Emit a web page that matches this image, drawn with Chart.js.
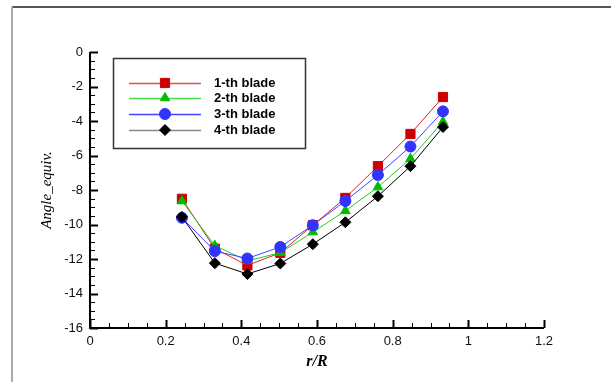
<!DOCTYPE html>
<html>
<head>
<meta charset="utf-8">
<script src="https://cdn.jsdelivr.net/npm/chart.js@4.4.0/dist/chart.umd.min.js"></script>
<style>
  html, body { margin: 0; padding: 0; background: #fff; }
  #wrap { width: 611px; height: 382px; position: relative; }
</style>
</head>
<body>
<div id="wrap"><canvas id="grafAngulo"></canvas></div>
<script>
// datos
var rR = [0.243, 0.33, 0.416, 0.503, 0.589, 0.675, 0.761, 0.847, 0.933];
var blade1 = [-8.51, -11.4, -12.37, -11.64, -10.04, -8.46, -6.62, -4.75, -2.61];
var blade2 = [-8.64, -11.23, -12.1, -11.64, -10.44, -9.21, -7.83, -6.19, -4.04];
var blade3 = [-9.61, -11.54, -11.97, -11.3, -10.04, -8.64, -7.13, -5.48, -3.44];
var blade4 = [-9.56, -12.24, -12.87, -12.26, -11.14, -9.87, -8.36, -6.62, -4.35];
var bladeNames = ["1-th blade", "2-th blade", "3-th blade", "4-th blade"];
var xTicks = [0, 0.2, 0.4, 0.6, 0.8, 1, 1.2];
var yTicks = [0, -2, -4, -6, -8, -10, -12, -14, -16];

function puntos(vals) {
  return vals.map(function (v, i) { return { x: rR[i], y: v }; });
}

// plugin: marco, ticks internos, titulos y leyenda
var extras = {
  id: 'extras',
  beforeDraw: function (chart) {
    var c = chart.ctx;
    c.save();
    c.lineWidth = 2;
    c.strokeStyle = '#555';
    c.beginPath(); c.moveTo(12, 7); c.lineTo(611, 7); c.stroke();
    c.strokeStyle = '#aaa';
    c.beginPath(); c.moveTo(12, 7); c.lineTo(12, 382); c.stroke();
    c.restore();
  },
  afterDatasetsDraw: function (chart) {
    var c = chart.ctx, xs = chart.scales.x, ys = chart.scales.y;
    var a = chart.chartArea;
    c.save();
    c.strokeStyle = '#000';
    // ticks eje x
    for (var v = 0; v <= 1.2001; v += 0.05) {
      var px = Math.round(xs.getPixelForValue(v)) + 0.5;
      var major = Math.abs(v / 0.2 - Math.round(v / 0.2)) < 1e-6;
      c.lineWidth = major ? 2 : 1;
      c.beginPath(); c.moveTo(px, a.bottom); c.lineTo(px, a.bottom - (major ? 8 : 5)); c.stroke();
    }
    // ticks eje y
    for (var w = -16; w <= 0.001; w += 0.5) {
      var py = Math.round(ys.getPixelForValue(w)) + 0.5;
      var majorY = Math.abs(w / 2 - Math.round(w / 2)) < 1e-6;
      c.lineWidth = majorY ? 2 : 1;
      c.beginPath(); c.moveTo(a.left, py); c.lineTo(a.left + (majorY ? 8 : 5), py); c.stroke();
    }
    // ejes
    c.lineWidth = 2;
    c.beginPath(); c.moveTo(a.left, a.top); c.lineTo(a.left, a.bottom); c.lineTo(a.right, a.bottom); c.stroke();

    // titulos
    c.fillStyle = '#000';
    c.textAlign = 'center';
    c.textBaseline = 'middle';
    c.font = 'bold italic 16px "Liberation Serif"';
    c.fillText('r/R', (a.left + a.right) / 2, 362);
    c.translate(47, 190);
    c.rotate(-Math.PI / 2);
    c.font = 'italic 15px "Liberation Serif"';
    c.fillText('Angle_equiv.', 0, 0);
    c.setTransform(1, 0, 0, 1, 0, 0);

    // leyenda
    c.fillStyle = '#fff';
    c.fillRect(113, 58, 193, 91);
    c.lineWidth = 1.5;
    c.strokeStyle = '#333';
    c.strokeRect(113.5, 58.5, 192, 90);
    var filas = [83, 98, 114, 130];
    var lineCols = ['#e05050', '#44dd44', '#4444ff', '#888'];
    chart.data.datasets.forEach(function (ds, i) {
      var y = filas[i];
      c.strokeStyle = lineCols[i];
      c.lineWidth = 1.5;
      c.beginPath(); c.moveTo(129, y + 0.5); c.lineTo(201, y + 0.5); c.stroke();
      c.fillStyle = ds.pointBackgroundColor;
      c.strokeStyle = ds.pointBackgroundColor;
      c.lineWidth = 1;
      Chart.helpers.drawPoint(c, {
        pointStyle: ds.pointStyle, radius: ds.pointRadius, borderWidth: 1
      }, 165, y);
      c.fillStyle = '#000';
      c.textAlign = 'left';
      c.font = 'bold 13px "Liberation Sans"';
      c.fillText(ds.label, 214, y + 0.5);
    });
    c.restore();
  }
};

var conf = [
  { vals: blade1, line: '#dd2222', mark: '#cc0000', style: 'rect', r: 6.5, order: 4 },
  { vals: blade2, line: '#22cc22', mark: '#00bb00', style: 'triangle', r: 5.5, order: 3 },
  { vals: blade3, line: '#4444ff', mark: '#3333ff', style: 'circle', r: 5.5, order: 2 },
  { vals: blade4, line: '#000000', mark: '#000000', style: 'rectRot', r: 5.5, order: 1 }
];

var ctx = document.getElementById('grafAngulo');
var grafico = new Chart(ctx, {
  type: 'line',
  data: {
    datasets: conf.map(function (d, i) {
      return {
        label: bladeNames[i],
        data: puntos(d.vals),
        borderColor: d.line,
        borderWidth: 1,
        pointStyle: d.style,
        pointRadius: d.r,
        pointBackgroundColor: d.mark,
        pointBorderColor: d.mark,
        pointBorderWidth: 1,
        order: d.order,
        tension: 0
      };
    })
  },
  options: {
    responsive: true,
    maintainAspectRatio: false,
    animation: false,
    events: [],
    layout: { padding: { top: 52, right: 67, left: 0, bottom: 0 } },
    plugins: { legend: { display: false }, tooltip: { enabled: false } },
    scales: {
      x: {
        type: 'linear', min: 0, max: 1.2,
        afterFit: function (s) { s.height = 54; },
        afterBuildTicks: function (s) { s.ticks = xTicks.map(function (v) { return { value: v }; }); },
        grid: { display: false, drawTicks: false },
        border: { display: false },
        ticks: {
          padding: 6, color: '#111', maxRotation: 0,
          font: { family: 'Liberation Sans', size: 13 },
          callback: function (v) { return String(Number(v.toFixed(1))); }
        }
      },
      y: {
        type: 'linear', min: -16, max: 0,
        afterFit: function (s) { s.width = 90; },
        afterBuildTicks: function (s) { s.ticks = yTicks.map(function (v) { return { value: v }; }); },
        grid: { display: false, drawTicks: false },
        border: { display: false },
        ticks: {
          padding: 7, color: '#111',
          font: { family: 'Liberation Sans', size: 13 },
          callback: function (v) { return String(v); }
        }
      }
    }
  },
  plugins: [extras]
});
</script>
</body>
</html>
